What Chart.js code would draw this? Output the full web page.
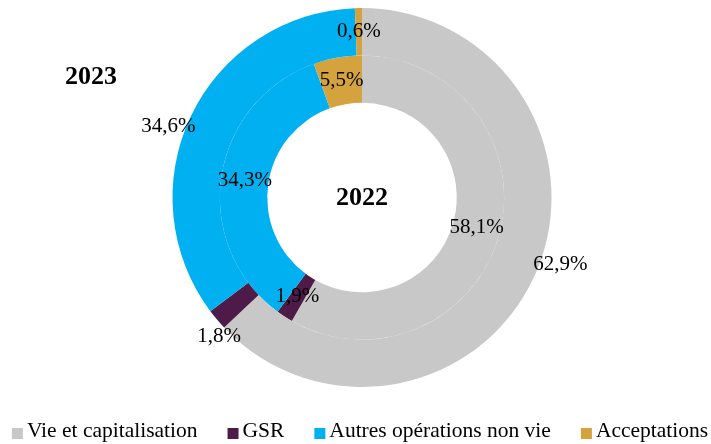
<!DOCTYPE html>
<html>
<head>
<meta charset="utf-8">
<script src="https://cdn.jsdelivr.net/npm/chart.js@4/dist/chart.umd.min.js"></script>
<style>
  html, body { margin: 0; padding: 0; background: #fff; }
  #wrap { width: 711px; height: 444px; }
</style>
</head>
<body>
<div id="wrap"><canvas id="chart"></canvas></div>
<script>
// Categories and values (%)
const categories = ['Vie et capitalisation', 'GSR', 'Autres opérations non vie', 'Acceptations'];
const values2023 = [62.9, 1.8, 34.6, 0.6];
const values2022 = [58.1, 1.9, 34.3, 5.5];
const sliceColors = ['#C8C8C8', '#4E1A47', '#00B0F0', '#D4A33E'];

const FONT = "'Liberation Serif', 'Times New Roman', serif";

// Label nudges (px) for the outer ring, as placed in the original
const outerNudge = [[46, 1], [-16, 32], [-44, 0], [0, 0]];
const innerNudge = [[0, 0], [0, 0], [0, 0], [0, 0]];

const fmt = v => v.toFixed(1).replace('.', ',') + '%';

const labelPlugin = {
    id: 'ringLabels',
    afterDatasetsDraw(chart) {
        const ctx = chart.ctx;
        ctx.save();
        ctx.fillStyle = '#000';
        ctx.textAlign = 'center';
        ctx.textBaseline = 'middle';
        ctx.font = '21px ' + FONT;
        chart.data.datasets.forEach((ds, di) => {
            const meta = chart.getDatasetMeta(di);
            const nudge = di === 0 ? outerNudge : innerNudge;
            meta.data.forEach((arc, i) => {
                const p = arc.getCenterPoint();
                ctx.fillText(fmt(ds.data[i]), p.x + nudge[i][0], p.y + nudge[i][1]);
            });
        });
        // year titles
        const arc0 = chart.getDatasetMeta(0).data[0];
        ctx.font = 'bold 26px ' + FONT;
        ctx.fillText('2022', arc0.x, arc0.y + 1);
        ctx.fillText('2023', arc0.x - 271, arc0.y - 120);
        ctx.restore();
    }
};

// simple legend row under the doughnut (built-in legend wraps at this spacing)
const legendPlugin = {
    id: 'rowLegend',
    afterDraw(chart) {
        const ctx = chart.ctx;
        const box = 11, gap = 4, itemGap = 30;
        ctx.save();
        ctx.font = '21.5px ' + FONT;
        const widths = categories.map(c => ctx.measureText(c).width);
        const total = widths.reduce((a, w) => a + box + gap + w, 0) + itemGap * (categories.length - 1);
        let x = 360 - total / 2;
        const baseY = 437;
        ctx.textAlign = 'left';
        ctx.textBaseline = 'alphabetic';
        categories.forEach((c, i) => {
            ctx.fillStyle = sliceColors[i];
            ctx.fillRect(x, baseY - 9, box, box);
            ctx.fillStyle = '#000';
            ctx.fillText(c, x + box + gap, baseY);
            x += box + gap + widths[i] + itemGap;
        });
        ctx.restore();
    }
};

new Chart(document.getElementById('chart'), {
    type: 'doughnut',
    data: {
        labels: categories,
        datasets: [
            { label: '2023', data: values2023, backgroundColor: sliceColors, borderWidth: 0 },
            { label: '2022', data: values2022, backgroundColor: sliceColors, borderWidth: 0 }
        ]
    },
    options: {
        responsive: true,
        maintainAspectRatio: false,
        animation: false,
        devicePixelRatio: 1,
        cutout: '50%',
        layout: { padding: { top: 8, left: 13, right: 0, bottom: 57 } },
        plugins: {
            tooltip: { enabled: false },
            legend: { display: false }
        }
    },
    plugins: [labelPlugin, legendPlugin]
});
</script>
</body>
</html>
